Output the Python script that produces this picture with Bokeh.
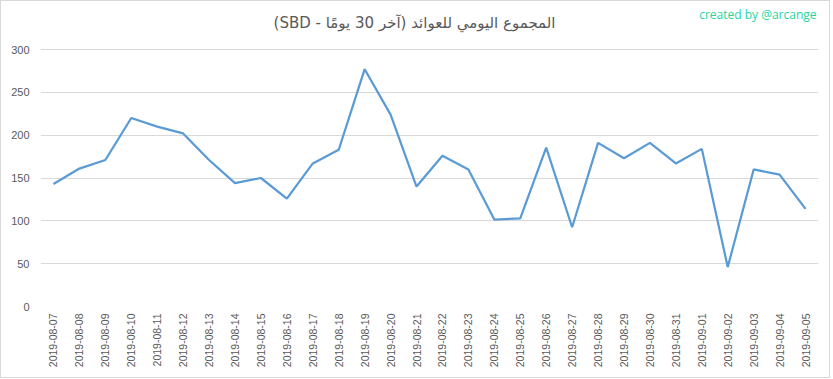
from bokeh.plotting import figure
from bokeh.models import Label, Range1d, FixedTicker, ColumnDataSource
from bokeh.embed import file_html
from bokeh.resources import INLINE
import math

dates = [
    "2019-08-07", "2019-08-08", "2019-08-09", "2019-08-10", "2019-08-11",
    "2019-08-12", "2019-08-13", "2019-08-14", "2019-08-15", "2019-08-16",
    "2019-08-17", "2019-08-18", "2019-08-19", "2019-08-20", "2019-08-21",
    "2019-08-22", "2019-08-23", "2019-08-24", "2019-08-25", "2019-08-26",
    "2019-08-27", "2019-08-28", "2019-08-29", "2019-08-30", "2019-08-31",
    "2019-09-01", "2019-09-02", "2019-09-03", "2019-09-04", "2019-09-05",
]
values = [
    143, 161, 171, 220, 210, 202, 171, 144, 150, 126,
    167, 183, 277, 224, 140, 176, 160, 101.5, 103, 185.5,
    92.5, 191, 173, 191, 167, 184, 46, 160, 154, 114,
]
y_ticks = [0, 50, 100, 150, 200, 250, 300]

title_text = "المجموع اليومي للعوائد (آخر 30 يومًا - SBD)"
credit_text = "created by @arcange"

src = ColumnDataSource(data=dict(x=dates, y=values))

# The frame reaches the top of the canvas so that the title texts
# (drawn as labels) lie inside it; the value scale keeps 0-300 in the
# lower 257 px.
FRAME_H = 305
PLOT_H = 257
y_top = 300 * FRAME_H / PLOT_H

p = figure(
    x_range=dates, y_range=Range1d(0, y_top),
    frame_width=778, frame_height=FRAME_H,
    output_backend="svg", toolbar_location=None,
    min_border_left=39, min_border_right=11,
    min_border_top=0, min_border_bottom=71,
)
p.styles = {"border": "1px solid #d9d9d9"}
p.title.text = ""

p.outline_line_color = None
p.background_fill_color = "white"
p.border_fill_color = "white"

p.xgrid.grid_line_color = None
p.ygrid.grid_line_color = "#d9d9d9"
p.ygrid.grid_line_width = 1

p.yaxis.ticker = FixedTicker(ticks=y_ticks)
for ax in (p.xaxis, p.yaxis):
    ax.axis_line_color = None
    ax.major_tick_line_color = None
    ax.minor_tick_line_color = None
    ax.major_tick_out = 0
    ax.major_tick_in = 0
    ax.minor_tick_out = 0
    ax.minor_tick_in = 0
    ax.major_label_text_font = "Liberation Sans"
    ax.major_label_text_color = "#595959"
p.yaxis.major_label_text_font_size = "11px"
p.xaxis.major_label_text_font_size = "10.5px"
p.yaxis.major_label_standoff = 11
p.xaxis.major_label_standoff = 7
p.xaxis.major_label_orientation = math.pi / 2

p.line("x", "y", source=src, line_color="#5b9bd5", line_width=2.25)

main_title = Label(
    x=374, y=FRAME_H - 21, x_units="screen", y_units="screen",
    text="\u202b" + title_text + "\u202c",
    text_align="center", text_baseline="middle",
    text_font="DejaVu Sans", text_font_size="15px", text_color="#595959",
)
p.add_layout(main_title)

credit = Label(
    x=776, y=FRAME_H - 13, x_units="screen", y_units="screen",
    text=credit_text, text_align="right", text_baseline="middle",
    text_font="Open Sans", text_font_size="12px", text_color="#1fd6a0",
)
p.add_layout(credit)

open("out.html", "w").write(file_html(p, INLINE))
